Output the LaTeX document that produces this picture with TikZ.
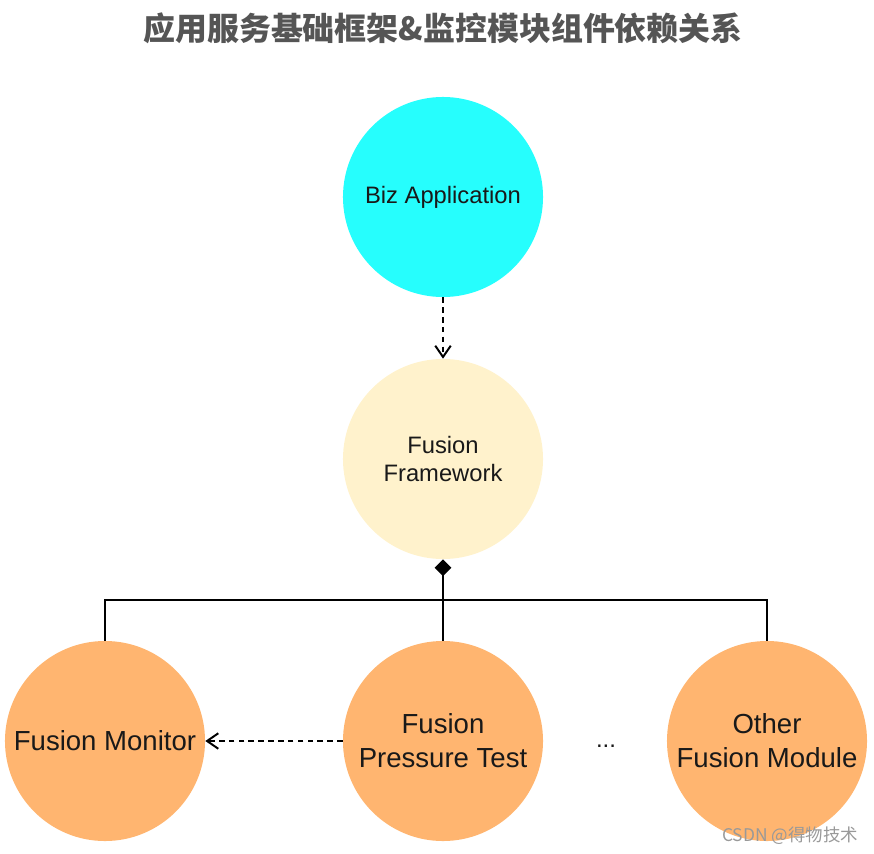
\documentclass[tikz,border=0pt]{standalone}
\usepackage{fontspec}
\setmainfont{Liberation Sans}
\newfontfamily\cjk{Noto Sans CJK SC}
\usetikzlibrary{arrows.meta, calc}
\definecolor{bizcyan}{HTML}{26FEFD}
\definecolor{fwyellow}{HTML}{FFF2CC}
\definecolor{modorange}{HTML}{FFB570}
\definecolor{titlegray}{HTML}{555555}
\tikzstyle{modcircle} = [circle, minimum size=5cm, inner sep=0pt, align=center]
\tikzstyle{dep} = [line width=1.4pt, dash pattern=on 4pt off 3pt, -{Straight Barb[length=8pt,width=11pt,line width=1.4pt]}]
\tikzstyle{tree} = [line width=1.4pt]

\begin{document}
\begin{tikzpicture}[
			x = 0.025cm, y = -0.025cm,
			every node/.style = {text=black!90}]
			\useasboundingbox (0,0) rectangle (874,854);

			\node[font = \cjk\bfseries\fontsize{22.7pt}{26pt}\selectfont, text = titlegray] (title) at (443,28) {应用服务基础框架\&监控模块组件依赖关系};

			\node[modcircle, fill = bizcyan, font = \fontsize{16.9pt}{20pt}\selectfont] (biz) at (443,197) {Biz Application};
			\node[modcircle, fill = fwyellow, font = \fontsize{16.9pt}{20pt}\selectfont] (fw) at (443,459) {Fusion\\Framework};
			\node[modcircle, fill = modorange, font = \fontsize{19.6pt}{24pt}\selectfont] (mon) at (105,741) {Fusion Monitor};
			\node[modcircle, fill = modorange, font = \fontsize{19.6pt}{24pt}\selectfont] (pt) at (443,741) {Fusion\\Pressure Test};
			\node[modcircle, fill = modorange, font = \fontsize{19.6pt}{24pt}\selectfont] (other) at (767,741) {Other\\Fusion Module};
			\node[font = \fontsize{17pt}{20pt}\selectfont] (dots) at (606,746) {...};

			\coordinate (bus) at (443,600);
			\draw[dep] (biz) -- (fw);
			\draw[dep] (pt) -- (mon);
			\draw[tree, {Diamond[length=12pt,width=12pt]}-] (fw) -- (bus);
			\draw[tree] (bus) -| (mon);
			\draw[tree] (bus) -- (pt);
			\draw[tree] (bus) -| (other);

			% Labels
			\node[font = \cjk\fontsize{12.4pt}{14pt}\selectfont, text = black!40] (mark) at (790,836) {CSDN @得物技术};
		\end{tikzpicture}
\end{document}
